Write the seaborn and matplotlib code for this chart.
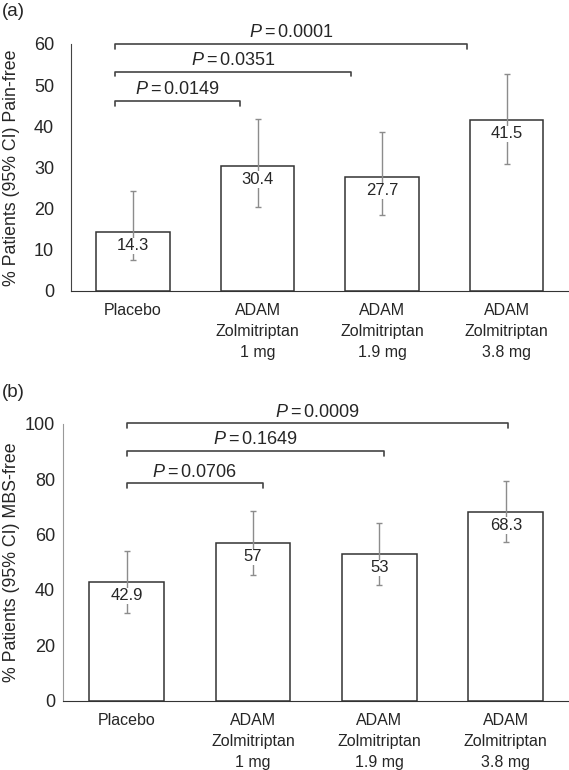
import numpy as np
import pandas as pd
import seaborn as sns
import matplotlib.pyplot as plt

sns.set_style("white")
plt.rcParams['font.family'] = ['Liberation Sans', 'DejaVu Sans']
plt.rcParams['mathtext.fontset'] = 'custom'
plt.rcParams['mathtext.it'] = 'Liberation Sans:italic'
plt.rcParams['mathtext.rm'] = 'Liberation Sans'

groups = ["Placebo", "ADAM\nZolmitriptan\n1 mg", "ADAM\nZolmitriptan\n1.9 mg",
          "ADAM\nZolmitriptan\n3.8 mg"]

# panel (a) pain-free
pain_free = [14.3, 30.4, 27.7, 41.5]
pain_lo = [7.4, 20.4, 18.4, 30.7]
pain_hi = [24.3, 41.8, 38.6, 52.8]
pain_pvals = ["0.0149", "0.0351", "0.0001"]
pain_brackets = [(-0.145, 0.86, 46.2), (-0.145, 1.75, 53.3), (-0.145, 2.68, 60.0)]

# panel (b) MBS-free
mbs_free = [42.9, 57, 53, 68.3]
mbs_lo = [31.6, 45.3, 41.7, 57.3]
mbs_hi = [54.2, 68.6, 64.3, 79.4]
mbs_pvals = ["0.0706", "0.1649", "0.0009"]
mbs_brackets = [(0.0, 1.08, 78.5), (0.0, 2.04, 90.2), (0.0, 3.02, 100.1)]

fig = plt.figure(figsize=(5.69, 7.7), dpi=100)
ax1 = fig.add_axes([0.1243, 0.6225, 0.8757, 0.3204])
ax2 = fig.add_axes([0.1113, 0.09, 0.8887, 0.3597])


def panel(ax, vals, lo, hi, pvals, brackets, ymax, ystep, tick_drop, ylabel, spine_col, ypad):
    df = pd.DataFrame({'group': groups, 'value': vals})
    sns.barplot(data=df, x='group', y='value', color='white', saturation=1,
                edgecolor='#333333', linewidth=1.1, width=0.59, errorbar=None, ax=ax)
    vals = np.array(vals)
    err = [vals - np.array(lo), np.array(hi) - vals]
    ax.errorbar(np.arange(len(vals)), vals, yerr=err, fmt='none', ecolor='#8c8c8c',
                elinewidth=1, capsize=2.5, capthick=1, zorder=3)
    for i, v in enumerate(vals):
        ax.annotate(f"{v:g}", (i, v), xytext=(0, -10), textcoords='offset points',
                    ha='center', va='center', fontsize=12, zorder=5,
                    bbox=dict(facecolor='white', edgecolor='none', pad=0.5))
    for (x0, x1, y), p in zip(brackets, pvals):
        ax.plot([x0, x0, x1, x1], [y - tick_drop, y, y, y - tick_drop],
                color='#444444', lw=1.2, clip_on=False)
        ax.annotate(r"$P=$" + p, ((x0 + x1) / 2, y), xytext=(0, 2),
                    textcoords='offset points', ha='center', va='bottom',
                    fontsize=13, annotation_clip=False)
    ax.set_xlim(-0.5, 3.5)
    ax.set_ylim(0, ymax)
    ax.set_yticks(np.arange(0, ymax + 1, ystep))
    ax.set_xlabel('')
    ax.set_ylabel('')
    ax.tick_params(axis='y', length=0, labelsize=13, pad=ypad)
    ax.tick_params(axis='x', length=0, labelsize=11.5, pad=9)
    for lab in ax.get_xticklabels():
        lab.set_linespacing(1.5)
        lab.set_va('top')
    sns.despine(ax=ax)
    ax.spines['left'].set_color(spine_col)
    ax.spines['bottom'].set_color('#333333')
    pos = ax.get_position()
    fig.text(0.006, (pos.y0 + pos.y1) / 2, ylabel, rotation=90, ha='left', va='center',
             fontsize=12.8)


panel(ax1, pain_free, pain_lo, pain_hi, pain_pvals, pain_brackets, 60, 10, 1.2,
      "% Patients (95% CI) Pain-free", '#444444', 12)
panel(ax2, mbs_free, mbs_lo, mbs_hi, mbs_pvals, mbs_brackets, 100, 20, 1.8,
      "% Patients (95% CI) MBS-free", '#999999', 6)

fig.text(0.004, 0.985, "(a)", fontsize=13.5, ha='left', va='center')
fig.text(0.004, 0.49, "(b)", fontsize=13.5, ha='left', va='center')

fig.savefig("out.png", dpi=100)
